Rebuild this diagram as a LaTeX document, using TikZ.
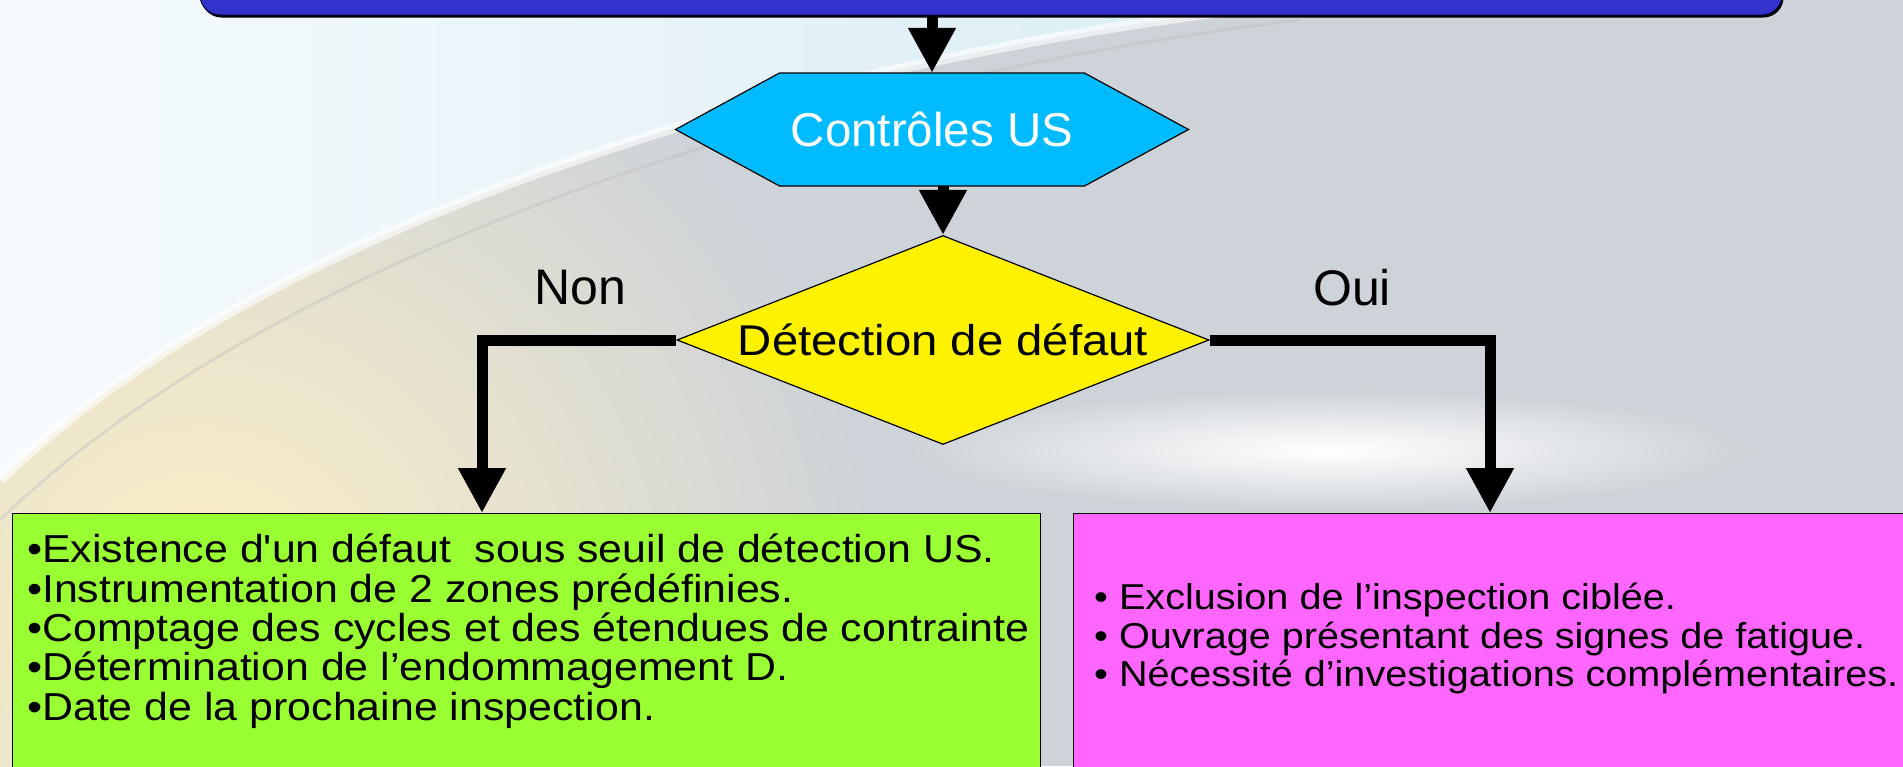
\documentclass[tikz,border=0pt]{standalone}
\usepackage{fontspec}
\setmainfont{Liberation Sans}
\newfontfamily\boxfont{Liberation Sans}[FakeStretch=1.1]
\usepackage{tikz}
\usetikzlibrary{positioning,calc,shapes.geometric,arrows.meta,shadows}

\definecolor{topblue}{HTML}{3333CC}
\definecolor{usblue}{HTML}{00BBFF}
\definecolor{nongreen}{HTML}{99FF33}
\definecolor{ouipink}{HTML}{FF66FF}
\definecolor{bggray}{HTML}{CED3D9}
\definecolor{skywhite}{HTML}{F6FBFD}
\definecolor{skycyan}{HTML}{D9ECF4}
\definecolor{warm}{HTML}{FFF1C4}

\tikzset{
  flow/.style={line width=11pt,-{Triangle[width=45pt,length=45pt]}},
  topbox/.style={draw=black!80!blue,fill=topblue,rounded corners=20pt,line width=1pt,
    drop shadow={shadow xshift=1.5pt,shadow yshift=-2.5pt,fill=black,opacity=1}},
  hexline/.style={draw=black,line width=1.2pt,fill=usblue,line join=miter},
  usbox/.style={rectangle,minimum width=513pt,minimum height=113pt,inner sep=0pt,
    text=white,font=\fontsize{47.5}{50}\selectfont},
  detbox/.style={diamond,aspect=2.56,minimum width=532pt,minimum height=209pt,inner sep=0pt,
    draw=black,line width=1.2pt,fill=yellow,font=\boxfont\fontsize{43}{45}\selectfont},
  listbox/.style={draw=black,line width=1.2pt,anchor=north west,minimum height=300pt},
  listtext/.style={anchor=north west,align=left,inner sep=0pt},
  answer/.style={font=\fontsize{50}{52}\selectfont},
}

\begin{document}
\begin{tikzpicture}[x=1pt,y=-1pt]
  \useasboundingbox (0,0) rectangle (1903,766);
  \clip (0,0) rectangle (1903,766);

  % backdrop: grey sky, warm glow and the pale arc
  \fill[bggray] (0,0) rectangle (1903,766);
  \shade[inner color=warm,outer color=bggray] (200,620) circle[radius=680pt];
  \shade[inner color=white,outer color=bggray] (1330,450) ellipse[x radius=420pt,y radius=60pt];
  \shade[left color=skywhite,right color=skycyan]
    (0,0) -- (1330,0) .. controls (900,40) and (300,190) .. (0,480) -- cycle;
  \draw[white,line width=10pt,opacity=.6] (1330,0) .. controls (900,40) and (300,190) .. (0,480);
  \draw[black!25,line width=3pt,opacity=.4] (1300,20) .. controls (880,70) and (300,230) .. (0,520);

  % boxes
  \node[topbox,minimum width=1582pt,minimum height=62pt] (plan) at (991,-16) {};

  \coordinate (usc) at (932,129.5);
  \draw[hexline] ($(usc)+(-256.5,0)$) -- ++(104,-56.5) -- ++(305,0) -- ++(104,56.5)
    -- ++(-104,56.5) -- ++(-305,0) -- cycle;
  \node[usbox] (us) at (usc) {Contrôles US};
  \node[detbox] (det) at (943,340) {Détection de défaut};

  \node[answer] (non) at (580,288) {Non};
  \node[answer] (oui) at (1352,288) {Oui};

  \node[listbox,fill=nongreen,minimum width=1028pt] (nonbox) at (12,513) {};
  \node[listbox,fill=ouipink,minimum width=900pt] (ouibox) at (1073,513) {};

  \node[listtext,font=\boxfont\fontsize{39}{39.3}\selectfont] (nonitems) at (27,534)
    {•Existence d'un défaut\ \ sous seuil de détection US.\\
     •Instrumentation de 2 zones prédéfinies.\\
     •Comptage des cycles et des étendues de contrainte\\
     •Détermination de l’endommagement D.\\
     •Date de la prochaine inspection.};
  \node[listtext,font=\boxfont\fontsize{36}{38.5}\selectfont] (ouiitems) at (1094,583)
    {• Exclusion de l’inspection ciblée.\\
     • Ouvrage présentant des signes de fatigue.\\
     • Nécessité d’investigations complémentaires.};

  % connectors
  \coordinate (nonturn) at (482,340);
  \coordinate (ouiturn) at (1490,340);
  \draw[flow] (plan.south -| us.north) -- (us.north);
  \draw[flow] (det.north |- us.south) -- (det.north);
  \draw[flow] (det.west) -- (nonturn) -- (nonturn |- nonbox.north);
  \draw[flow] (det.east) -- (ouiturn) -- (ouiturn |- ouibox.north);
\end{tikzpicture}
\end{document}
